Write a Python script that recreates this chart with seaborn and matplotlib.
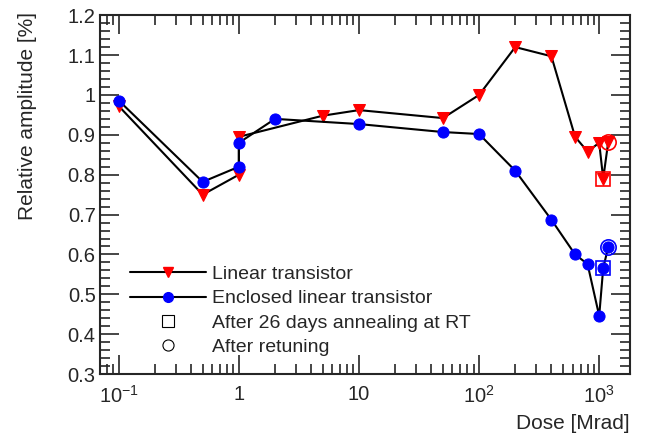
import numpy as np
import pandas as pd
import seaborn as sns
import matplotlib.pyplot as plt
from matplotlib.lines import Line2D
from matplotlib.ticker import FixedLocator, FuncFormatter, MultipleLocator, LogLocator

# Linear transistor
lin_dose = [0.1, 0.5, 1, 1, 5, 10, 50, 100, 200, 400, 630, 800, 1000, 1080, 1190]
lin_amp = [0.972, 0.75, 0.80, 0.895, 0.948, 0.962, 0.942, 1.0, 1.12, 1.097, 0.895, 0.858, 0.88, 0.79, 0.883]

# Enclosed linear transistor
elt_dose = [0.1, 0.5, 1, 1, 2, 10, 50, 100, 200, 400, 630, 800, 1000, 1080, 1190]
elt_amp = [0.986, 0.782, 0.82, 0.88, 0.94, 0.927, 0.907, 0.902, 0.81, 0.687, 0.60, 0.576, 0.446, 0.566, 0.619]

# after annealing (squares) and after retuning (circles)
anneal_dose = [1080, 1080]
anneal_amp = [0.79, 0.566]
retune_dose = [1190, 1190]
retune_amp = [0.883, 0.619]
mark_colors = ['red', 'blue']

sns.set_style('ticks')
plt.rcParams['font.family'] = ['Liberation Sans', 'DejaVu Sans']
plt.rcParams['mathtext.fontset'] = 'custom'
plt.rcParams['mathtext.rm'] = 'Liberation Sans'
plt.rcParams['axes.unicode_minus'] = True

fig = plt.figure(figsize=(6.48, 4.34), dpi=100)
ax = fig.add_axes([0.154, 0.138, 0.818, 0.827])

lin_df = pd.DataFrame({'dose': lin_dose, 'amp': lin_amp})
elt_df = pd.DataFrame({'dose': elt_dose, 'amp': elt_amp})

sns.lineplot(data=lin_df, x='dose', y='amp', sort=False, estimator=None, color='black',
             lw=1.5, marker='v', markersize=8, mfc='red', mec='red', ax=ax)
sns.lineplot(data=elt_df, x='dose', y='amp', sort=False, estimator=None, color='black',
             lw=1.5, marker='o', markersize=8, mfc='blue', mec='blue', ax=ax)

for d, a, c in zip(anneal_dose, anneal_amp, mark_colors):
    ax.plot(d, a, marker='s', markersize=10, mfc='none', mec=c, mew=1.2, clip_on=False)
for d, a, c in zip(retune_dose, retune_amp, mark_colors):
    ax.plot(d, a, marker='o', markersize=11, mfc='none', mec=c, mew=1.2, clip_on=False)

ax.set_xscale('log')
ax.set_xlim(0.0695, 1800)
ax.set_ylim(0.3, 1.2)

ax.xaxis.set_major_locator(FixedLocator([0.1, 1, 10, 100, 1000]))
ax.xaxis.set_major_formatter(FuncFormatter(
    lambda v, p: {0.1: '$10^{-1}$', 1: '1', 10: '10', 100: '$10^{2}$', 1000: '$10^{3}$'}.get(round(v, 3), '')))
ax.xaxis.set_minor_locator(LogLocator(base=10, subs=np.arange(2, 10), numticks=20))
ax.yaxis.set_major_locator(MultipleLocator(0.1))
ax.yaxis.set_minor_locator(MultipleLocator(0.02))
ax.yaxis.set_major_formatter(FuncFormatter(lambda v, p: '%g' % round(v, 2)))

ax.tick_params(which='both', direction='in', top=True, right=True, labelsize=14.5, width=1.2)
ax.tick_params(which='major', length=14)
ax.tick_params(axis='x', which='major', pad=8)
ax.tick_params(axis='y', which='major', pad=3)
ax.tick_params(which='minor', length=7)
for s in ax.spines.values():
    s.set_linewidth(1.5)

ax.set_xlabel('Dose [Mrad]', fontsize=15, loc='right')
ax.set_ylabel('Relative amplitude [%]', fontsize=15, loc='top')
ax.xaxis.set_label_coords(1.0, -0.11)
ax.yaxis.set_label_coords(-0.119, 1.01)

handles = [
    Line2D([], [], color='black', lw=1.5, marker='v', markersize=7, mfc='red', mec='red'),
    Line2D([], [], color='black', lw=1.5, marker='o', markersize=7, mfc='blue', mec='blue'),
    Line2D([], [], ls='none', marker='s', markersize=8, mfc='none', mec='black', mew=0.8),
    Line2D([], [], ls='none', marker='o', markersize=8, mfc='none', mec='black', mew=0.8),
]
labels = ['Linear transistor', 'Enclosed linear transistor',
          'After 26 days annealing at RT', 'After retuning']
ax.legend(handles, labels, loc='upper left', bbox_to_anchor=(0.057, 0.303), frameon=False,
          fontsize=14, handlelength=3.9, labelspacing=0.35, handletextpad=0.3,
          borderpad=0, borderaxespad=0)

fig.savefig('out.png', dpi=100)
